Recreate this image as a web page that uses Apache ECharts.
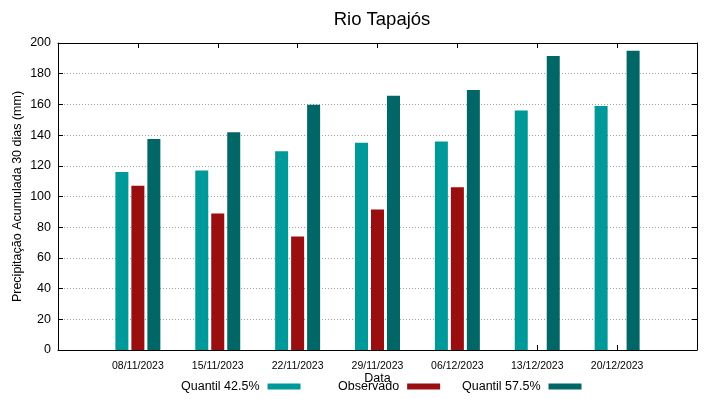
<!DOCTYPE html>
<html lang="pt">
<head>
  <meta charset="UTF-8">
  <title>Rio Tapajós</title>
  <script src="https://cdn.jsdelivr.net/npm/echarts@6/dist/echarts.min.js"></script>
  <style>
    html,body{margin:0;padding:0;background:#fff;}
    #chart{width:719px;height:399px;}
  </style>
</head>
<body>
  <div id="chart"></div>
  <script>
    // dados
    var categories = ['08/11/2023', '15/11/2023', '22/11/2023', '29/11/2023', '06/12/2023', '13/12/2023', '20/12/2023'];
    var quantil425 = [116, 117, 129.5, 135, 135.8, 156, 159];
    var observado = [107, 89, 74, 91.5, 106, null, null];
    var quantil575 = [137.5, 141.8, 159.7, 165.7, 169.4, 191.5, 195];
    var yTicks = [0, 20, 40, 60, 80, 100, 120, 140, 160, 180, 200];

    var font = 'Liberation Sans, Arial, sans-serif';

    function toPoints(arr){
      return arr.map(function(v, i){ return [i + 1, v == null ? '-' : v]; });
    }

    var myChart = echarts.init(document.getElementById('chart'));
    var option = {
      animation: false,
      textStyle: { fontFamily: font, color: '#000' },
      title: {
        text: 'Rio Tapajós',
        left: 377, top: 5, textAlign: 'center',
        textStyle: { fontFamily: font, fontSize: 18.5, fontWeight: 'normal', color: '#000' }
      },
      // três legendas separadas, como as colunas do gnuplot
      legend: [
        { data: ['Quantil 42.5%'], left: 181, top: 380 },
        { data: ['Observado'], left: 338, top: 380 },
        { data: ['Quantil 57.5%'], left: 462, top: 380 }
      ].map(function(l){
        l.align = 'right';
        l.icon = 'rect';
        l.itemWidth = 33;
        l.itemHeight = 6;
        l.padding = 0;
        l.selectedMode = false;
        l.textStyle = { fontFamily: font, fontSize: 12.5, color: '#000', padding: [0, 3, 0, 0] };
        return l;
      }),
      grid: { left: 58, right: 22, top: 43, bottom: 49 },
      xAxis: [{
        type: 'value', min: 0, max: 8, interval: 1, position: 'bottom',
        name: 'Data', nameLocation: 'middle', nameGap: 22, nameMoveOverlap: false,
        nameTextStyle: { fontFamily: font, fontSize: 12.5, color: '#000' },
        axisLine: { onZero: false, lineStyle: { color: '#000', width: 1 } },
        axisTick: { inside: true, length: 5, lineStyle: { color: '#000' } },
        axisLabel: {
          fontFamily: font, fontSize: 10.5, color: '#000', margin: 11,
          formatter: function(v){ return categories[v - 1] || ''; }
        },
        splitLine: { show: false }
      }, {
        type: 'value', min: 0, max: 8, interval: 1, position: 'top',
        axisLine: { onZero: false, lineStyle: { color: '#000', width: 1 } },
        axisTick: { inside: true, length: 5, lineStyle: { color: '#000' } },
        axisLabel: { show: false },
        splitLine: { show: false }
      }],
      yAxis: [{
        type: 'value', min: 0, max: 200, interval: 20, position: 'left',
        name: 'Precipitação Acumulada 30 dias (mm)', nameLocation: 'middle', nameGap: 34, nameMoveOverlap: false,
        nameTextStyle: { fontFamily: font, fontSize: 12.5, color: '#000' },
        axisLine: { show: true, onZero: false, lineStyle: { color: '#000', width: 1 } },
        axisTick: { show: true, inside: true, length: 5, lineStyle: { color: '#000' } },
        axisLabel: {
          fontFamily: font, fontSize: 12.5, color: '#000', margin: 7,
          formatter: function(v){ return yTicks.indexOf(v) >= 0 ? String(v) : ''; }
        },
        splitLine: { show: true, lineStyle: { color: '#a0a0a0', type: [1, 2], width: 1 } }
      }, {
        type: 'value', min: 0, max: 200, interval: 20, position: 'right',
        axisLine: { show: true, onZero: false, lineStyle: { color: '#000', width: 1 } },
        axisTick: { show: true, inside: true, length: 5, lineStyle: { color: '#000' } },
        axisLabel: { show: false },
        splitLine: { show: false }
      }],
      series: [{
        name: 'Quantil 42.5%', type: 'bar', xAxisIndex: 0, yAxisIndex: 0,
        barWidth: 13, barGap: '23%',
        itemStyle: { color: '#009999' },
        data: toPoints(quantil425)
      }, {
        name: 'Observado', type: 'bar', xAxisIndex: 0, yAxisIndex: 0,
        barWidth: 13, barGap: '23%',
        itemStyle: { color: '#990e0e' },
        data: toPoints(observado)
      }, {
        name: 'Quantil 57.5%', type: 'bar', xAxisIndex: 0, yAxisIndex: 0,
        barWidth: 13, barGap: '23%',
        itemStyle: { color: '#006666' },
        data: toPoints(quantil575)
      }]
    };
    myChart.setOption(option);
  </script>
</body>
</html>
